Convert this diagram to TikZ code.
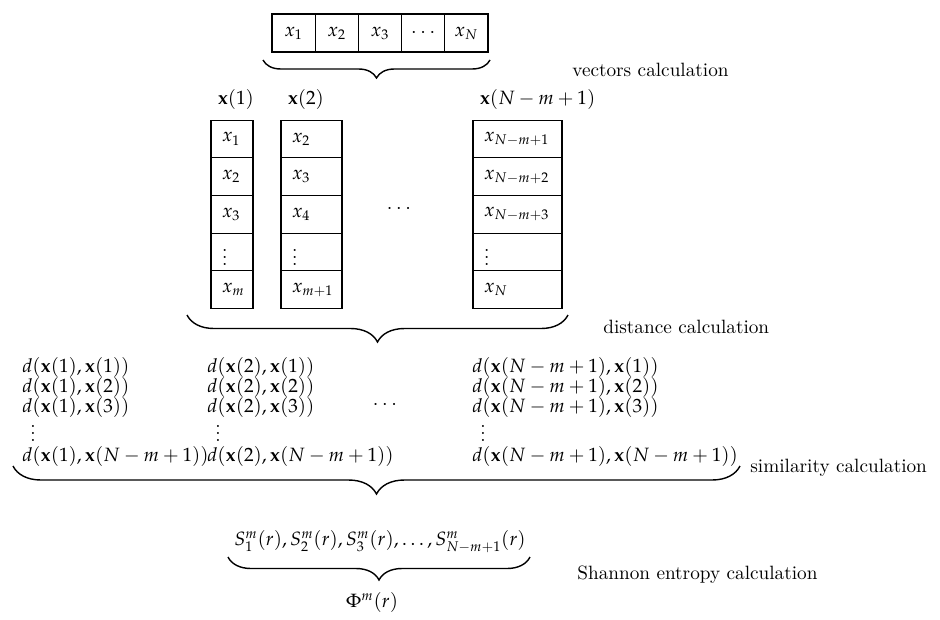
\documentclass[tikz,border=0pt,11pt]{standalone}
\usepackage{mathpazo}
\usetikzlibrary{positioning,decorations.pathreplacing}
\tikzset{
  vcell/.style={draw,semithick,outer sep=0pt,inner sep=0pt,minimum width=0.864cm,minimum height=0.76cm},
  ccell/.style={draw,semithick,outer sep=0pt,inner xsep=0.22cm,inner ysep=0pt,minimum height=0.754cm,align=left},
  colA/.style={ccell,text width=0.40cm},
  colB/.style={ccell,text width=0.78cm},
  colC/.style={ccell,text width=1.34cm},
  sim/.style={anchor=west,inner sep=0pt},
  lbl/.style={anchor=west,inner sep=0pt},
  brc/.style={decorate,thick,decoration={brace,mirror,amplitude=#1}}
}
\begin{document}
\begin{tikzpicture}
  \useasboundingbox (0,0) rectangle (18.8,-12.38);
  % series
  \node[vcell] (v1) at (5.872,-0.66) {$x_1$};
  \node[vcell,right=0pt of v1] (v2) {$x_2$};
  \node[vcell,right=0pt of v2] (v3) {$x_3$};
  \node[vcell,right=0pt of v3] (v4) {$\cdots$};
  \node[vcell,right=0pt of v4] (v5) {$x_N$};
  \coordinate (b1l) at (5.26,-1.20);
  \coordinate (b1r) at (9.80,-1.20);
  \draw[brc=0.36cm] (b1l) -- (b1r);
  \node[lbl] (t1) at (11.44,-1.40) {vectors calculation};
  % vectors
  \node[colA] (a1) at (4.64,-2.778) {$x_1$};
  \node[colA,below=0pt of a1] (a2) {$x_2$};
  \node[colA,below=0pt of a2] (a3) {$x_3$};
  \node[colA,below=0pt of a3] (a4) {$\vdots$};
  \node[colA,below=0pt of a4] (a5) {$x_m$};
  \node[colB] (b1) at (6.23,-2.778) {$x_2$};
  \node[colB,below=0pt of b1] (b2) {$x_3$};
  \node[colB,below=0pt of b2] (b3) {$x_4$};
  \node[colB,below=0pt of b3] (b4) {$\vdots$};
  \node[colB,below=0pt of b4] (b5) {$x_{m+1}$};
  \node[colC] (c1) at (10.35,-2.778) {$x_{N-m+1}$};
  \node[colC,below=0pt of c1] (c2) {$x_{N-m+2}$};
  \node[colC,below=0pt of c2] (c3) {$x_{N-m+3}$};
  \node[colC,below=0pt of c3] (c4) {$\vdots$};
  \node[colC,below=0pt of c4] (c5) {$x_N$};
  \node[above right=0.08cm and 0cm of a1.north west] (l1) {$\mathbf{x}(1)$};
  \node[above right=0.08cm and 0cm of b1.north west] (l2) {$\mathbf{x}(2)$};
  \node[above right=0.08cm and 0cm of c1.north west] (l3) {$\mathbf{x}(N-m+1)$};
  \node (vd) at (7.98,-4.18) {$\cdots$};
  \coordinate (b2l) at (3.74,-6.30);
  \coordinate (b2r) at (11.36,-6.30);
  \draw[brc=0.54cm] (b2l) -- (b2r);
  \node[lbl] (t2) at (12.06,-6.54) {distance calculation};
  % distances
  \node[sim] (s11) at (0.44,-7.34) {$d(\mathbf{x}(1),\mathbf{x}(1))$};
  \node[sim] (s12) at (0.44,-7.74) {$d(\mathbf{x}(1),\mathbf{x}(2))$};
  \node[sim] (s13) at (0.44,-8.14) {$d(\mathbf{x}(1),\mathbf{x}(3))$};
  \node[sim] (s14) at (0.60,-8.56) {$\vdots$};
  \node[sim] (s15) at (0.44,-9.12) {$d(\mathbf{x}(1),\mathbf{x}(N-m+1))$};
  \node[sim] (s21) at (4.14,-7.34) {$d(\mathbf{x}(2),\mathbf{x}(1))$};
  \node[sim] (s22) at (4.14,-7.74) {$d(\mathbf{x}(2),\mathbf{x}(2))$};
  \node[sim] (s23) at (4.14,-8.14) {$d(\mathbf{x}(2),\mathbf{x}(3))$};
  \node[sim] (s24) at (4.30,-8.56) {$\vdots$};
  \node[sim] (s25) at (4.14,-9.12) {$d(\mathbf{x}(2),\mathbf{x}(N-m+1))$};
  \node[sim] (s31) at (9.44,-7.34) {$d(\mathbf{x}(N-m+1),\mathbf{x}(1))$};
  \node[sim] (s32) at (9.44,-7.74) {$d(\mathbf{x}(N-m+1),\mathbf{x}(2))$};
  \node[sim] (s33) at (9.44,-8.14) {$d(\mathbf{x}(N-m+1),\mathbf{x}(3))$};
  \node[sim] (s34) at (9.60,-8.56) {$\vdots$};
  \node[sim] (s35) at (9.44,-9.12) {$d(\mathbf{x}(N-m+1),\mathbf{x}(N-m+1))$};
  \node (sd) at (7.70,-8.10) {$\cdots$};
  \coordinate (b3l) at (0.26,-9.32);
  \coordinate (b3r) at (14.80,-9.32);
  \draw[brc=0.56cm] (b3l) -- (b3r);
  \node[lbl] (t3) at (15.0,-9.36) {similarity calculation};
  % entropy
  \node (sm) at (7.6,-10.84) {$S^m_1(r),S^m_2(r),S^m_3(r),\ldots,S^m_{N-m+1}(r)$};
  \coordinate (b4l) at (4.56,-11.14);
  \coordinate (b4r) at (10.60,-11.14);
  \draw[brc=0.46cm] (b4l) -- (b4r);
  \node[lbl] (t4) at (11.54,-11.50) {Shannon entropy calculation};
  \node (phi) at (7.44,-12.04) {$\Phi^m(r)$};
\end{tikzpicture}
\end{document}
